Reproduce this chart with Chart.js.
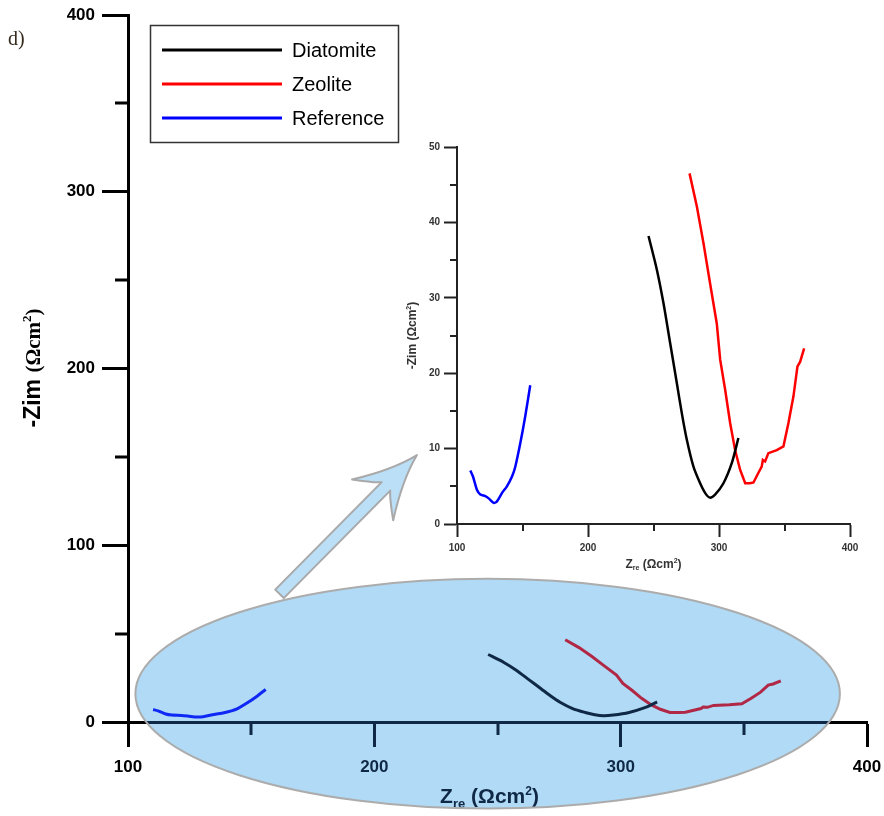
<!DOCTYPE html>
<html>
<head>
<meta charset="utf-8">
<script src="https://cdn.jsdelivr.net/npm/chart.js@4.4.1/dist/chart.umd.min.js"></script>
<style>
html, body { margin: 0; padding: 0; background: #fff; }
#wrap { position: relative; width: 884px; height: 816px; }
#main { position: absolute; left: 0; top: 0; }
#insetBox { position: absolute; left: 400px; top: 130px; width: 480px; height: 450px; }
</style>
</head>
<body>
<div id="wrap">
  <canvas id="main" width="884" height="816"></canvas>
  <div id="insetBox"><canvas id="inset" width="480" height="450"></canvas></div>
</div>
<script>
// series (same curves are in the big plot)
const seriesNames = ['Diatomite', 'Zeolite', 'Reference'];
const seriesColors = ['#000000', '#ff0000', '#0000ff'];

const diatomiteX = [246.2, 252.6, 257.6, 262.7, 267.8, 271.6, 275.4, 280.5, 285.6, 289.5, 293.0, 297.0, 303.4, 309.8, 314.8];
const diatomiteY = [38.2, 33.7, 29.3, 24.0, 18.7, 14.7, 11.2, 7.6, 5.4, 4.1, 3.5, 3.9, 5.4, 8.1, 11.4];

const zeoliteX = [277.5, 283.1, 288.2, 293.2, 298.3, 300.9, 304.7, 308.5, 312.3, 316.1, 320.0, 323.7, 326.3, 330.1, 332.6, 333.5, 335.2, 337.7, 344.1, 349.2, 353.0, 356.8, 359.9, 361.9, 365.0];
const zeoliteY = [46.5, 42.1, 37.2, 31.9, 26.6, 21.8, 17.8, 13.4, 9.8, 7.2, 5.4, 5.4, 5.5, 6.8, 7.6, 8.5, 8.3, 9.4, 9.8, 10.3, 13.4, 16.9, 20.9, 21.5, 23.3];

const referenceX = [110.2, 112.2, 115.3, 117.8, 121.6, 124.2, 128.0, 130.5, 134.3, 138.1, 142.0, 144.5, 148.3, 152.1, 155.9];
const referenceY = [7.1, 6.3, 4.5, 3.9, 3.7, 3.4, 2.8, 3.0, 4.1, 5.0, 6.3, 7.6, 10.7, 14.3, 18.4];

const xTicks = [100, 200, 300, 400];
const xMinor = [150, 250, 350];
const mainYTicks = [0, 100, 200, 300, 400];
const mainYMinor = [50, 150, 250, 350];
const insetYTicks = [0, 10, 20, 30, 40, 50];
const insetYMinor = [5, 15, 25, 35, 45];

// oval + arrow annotation in main-plot data units
const ovalCenter = [246, 16];
const ovalRadius = [143, 65];
const arrowTail = [161.5, 72.5];
const arrowTip = [217.3, 151];

function pts(xs, ys) { return xs.map((x, i) => ({ x: x, y: ys[i] })); }

function makeDatasets(width) {
  const sets = [[diatomiteX, diatomiteY, 0.25], [zeoliteX, zeoliteY, 0], [referenceX, referenceY, 0.25]];
  return sets.map((s, i) => ({
    label: seriesNames[i],
    data: pts(s[0], s[1]),
    borderColor: seriesColors[i],
    borderWidth: width,
    pointRadius: 0,
    showLine: true,
    tension: s[2],
    fill: false
  }));
}

function drawRich(ctx, parts, x, y, align) {
  let total = 0;
  parts.forEach(p => { ctx.font = p.font; p.w = ctx.measureText(p.t).width; total += p.w; });
  let cx = align === 'center' ? x - total / 2 : x;
  ctx.textBaseline = 'alphabetic';
  ctx.textAlign = 'left';
  parts.forEach(p => {
    ctx.font = p.font;
    ctx.fillText(p.t, cx, y + (p.dy || 0));
    cx += p.w;
  });
}

function minorTicksPlugin(xs, ys, len, width, color) {
  return {
    id: 'minorTicks',
    afterDraw(chart) {
      const ctx = chart.ctx, a = chart.chartArea;
      const sx = chart.scales.x, sy = chart.scales.y;
      ctx.save();
      ctx.strokeStyle = color;
      ctx.lineWidth = width;
      ctx.beginPath();
      xs.forEach(v => { const p = Math.round(sx.getPixelForValue(v)); ctx.moveTo(p, a.bottom); ctx.lineTo(p, a.bottom + len); });
      ys.forEach(v => { const p = Math.round(sy.getPixelForValue(v)); ctx.moveTo(a.left, p); ctx.lineTo(a.left - len, p); });
      ctx.stroke();
      ctx.restore();
    }
  };
}

const whiteBg = {
  id: 'whiteBg',
  beforeDraw(chart) {
    const ctx = chart.ctx;
    ctx.save();
    ctx.fillStyle = '#fff';
    ctx.fillRect(0, 0, chart.width, chart.height);
    ctx.restore();
  }
};

const mainDecor = {
  id: 'mainDecor',
  afterDraw(chart) {
    const ctx = chart.ctx, a = chart.chartArea;
    const sx = chart.scales.x, sy = chart.scales.y;
    ctx.save();
    ctx.fillStyle = '#000';
    // axis titles
    drawRich(ctx, [
      { t: 'Z', font: 'bold 21px "Liberation Sans", Arial' },
      { t: 're', font: 'bold 13px "Liberation Sans", Arial', dy: 5 },
      { t: ' (\u03A9cm', font: 'bold 21px "Liberation Sans", Arial' },
      { t: '2', font: 'bold 12px "Liberation Sans", Arial', dy: -8 },
      { t: ')', font: 'bold 21px "Liberation Sans", Arial' }
    ], (a.left + a.right) / 2 - 8, 803, 'center');
    ctx.save();
    ctx.translate(40, 368);
    ctx.rotate(-Math.PI / 2);
    drawRich(ctx, [
      { t: '-Zim ', font: 'bold 23px "Liberation Sans", Arial' },
      { t: '(\u03A9cm', font: 'bold 21px "Liberation Serif", serif' },
      { t: '2', font: 'bold 13px "Liberation Serif", serif', dy: -9 },
      { t: ')', font: 'bold 21px "Liberation Serif", serif' }
    ], 0, 0, 'center');
    ctx.restore();

    // panel letter
    ctx.fillStyle = '#33291c';
    ctx.font = '20px "Liberation Serif", serif';
    ctx.textAlign = 'left';
    ctx.fillText('d)', 8, 45);

    // legend box
    ctx.strokeStyle = '#333';
    ctx.lineWidth = 1.5;
    ctx.strokeRect(150.5, 25.5, 248, 117);
    const rows = [50, 84, 118];
    chart.data.datasets.forEach((ds, i) => {
      ctx.strokeStyle = ds.borderColor;
      ctx.lineWidth = 3;
      ctx.beginPath();
      ctx.moveTo(162, rows[i]);
      ctx.lineTo(282, rows[i]);
      ctx.stroke();
      ctx.fillStyle = '#000';
      ctx.font = '20px "Liberation Sans", Arial';
      ctx.textBaseline = 'middle';
      ctx.fillText(ds.label, 292, rows[i] + 1);
    });

    // arrow pointing to the inset
    const tx = sx.getPixelForValue(arrowTail[0]), ty = sy.getPixelForValue(arrowTail[1]);
    const hx = sx.getPixelForValue(arrowTip[0]), hy = sy.getPixelForValue(arrowTip[1]);
    const L = Math.hypot(hx - tx, hy - ty);
    const ux = (hx - tx) / L, uy = (hy - ty) / L;
    const nx = -uy, ny = ux;
    const P = (along, side) => [hx - ux * along + nx * side, hy - uy * along + ny * side];
    ctx.beginPath();
    let p = P(0, 0); ctx.moveTo(p[0], p[1]);
    let c = P(28, 7), q = P(63, 29); ctx.quadraticCurveTo(c[0], c[1], q[0], q[1]);
    c = P(50, 11); q = P(44, 6); ctx.quadraticCurveTo(c[0], c[1], q[0], q[1]);
    p = P(L, 6); ctx.lineTo(p[0], p[1]);
    p = P(L, -6); ctx.lineTo(p[0], p[1]);
    p = P(44, -6); ctx.lineTo(p[0], p[1]);
    c = P(50, -11); q = P(63, -29); ctx.quadraticCurveTo(c[0], c[1], q[0], q[1]);
    c = P(28, -7); q = P(0, 0); ctx.quadraticCurveTo(c[0], c[1], q[0], q[1]);
    ctx.closePath();
    ctx.fillStyle = 'rgb(186,223,247)';
    ctx.fill();
    ctx.strokeStyle = '#a9a9a9';
    ctx.lineWidth = 2;
    ctx.lineJoin = 'round';
    ctx.stroke();

    // translucent oval over the low part of the plot
    const ex = sx.getPixelForValue(ovalCenter[0]), ey = sy.getPixelForValue(ovalCenter[1]);
    const rx = sx.getPixelForValue(ovalCenter[0] + ovalRadius[0]) - ex;
    const ry = ey - sy.getPixelForValue(ovalCenter[1] + ovalRadius[1]);
    ctx.beginPath();
    ctx.ellipse(ex, ey, rx, ry, 0, 0, Math.PI * 2);
    ctx.globalCompositeOperation = 'multiply';
    ctx.fillStyle = 'rgb(171,211,241)';
    ctx.fill();
    ctx.globalCompositeOperation = 'screen';
    ctx.fillStyle = 'rgb(15,40,70)';
    ctx.fill();
    ctx.globalCompositeOperation = 'source-over';
    ctx.strokeStyle = '#acacac';
    ctx.lineWidth = 2;
    ctx.stroke();
    ctx.restore();
  }
};

const insetDecor = {
  id: 'insetDecor',
  afterDraw(chart) {
    const ctx = chart.ctx, a = chart.chartArea;
    ctx.save();
    ctx.fillStyle = '#333';
    drawRich(ctx, [
      { t: 'Z', font: 'bold 12px "Liberation Sans", Arial' },
      { t: 're', font: 'bold 7px "Liberation Sans", Arial', dy: 2 },
      { t: ' (\u03A9cm', font: 'bold 12px "Liberation Sans", Arial' },
      { t: '2', font: 'bold 7px "Liberation Sans", Arial', dy: -5 },
      { t: ')', font: 'bold 12px "Liberation Sans", Arial' }
    ], (a.left + a.right) / 2, 438, 'center');
    ctx.translate(16, (a.top + a.bottom) / 2);
    ctx.rotate(-Math.PI / 2);
    drawRich(ctx, [
      { t: '-Zim (\u03A9cm', font: 'bold 12px "Liberation Sans", Arial' },
      { t: '2', font: 'bold 7px "Liberation Sans", Arial', dy: -5 },
      { t: ')', font: 'bold 12px "Liberation Sans", Arial' }
    ], 0, 0, 'center');
    ctx.restore();
  }
};

function axis(min, max, step, o) {
  return {
    type: 'linear',
    min: min, max: max,
    border: { display: true, color: o.color, width: o.width },
    grid: { display: true, drawOnChartArea: false, drawTicks: true, tickLength: o.tick, tickWidth: o.width, tickColor: o.color },
    ticks: {
      stepSize: step,
      padding: o.pad,
      color: o.label,
      font: { family: '"Liberation Sans", Arial', size: o.size, weight: 'bold' },
      maxRotation: 0
    },
    title: { display: false }
  };
}

Chart.defaults.animation = false;

const mainX = axis(100, 400, 100, { color: '#000', width: 3, tick: 25, pad: 10, label: '#000', size: 17 });
mainX.afterFit = s => { s.height = 94; s.paddingLeft = 0; s.paddingRight = 0; };
const mainY = axis(0, 400, 100, { color: '#000', width: 3, tick: 26, pad: 7, label: '#000', size: 17 });
mainY.afterFit = s => { s.width = 128; s.paddingTop = 0; s.paddingBottom = 0; };

new Chart(document.getElementById('main'), {
  type: 'scatter',
  data: { datasets: makeDatasets(3) },
  options: {
    responsive: false,
    devicePixelRatio: 1,
    layout: { padding: { top: 15, right: 17, left: 0, bottom: 0 } },
    plugins: { legend: { display: false }, tooltip: { enabled: false } },
    scales: { x: mainX, y: mainY }
  },
  plugins: [whiteBg, minorTicksPlugin(xMinor, mainYMinor, 13, 3, '#000'), mainDecor]
});

const insX = axis(100, 400, 100, { color: '#222', width: 2, tick: 13, pad: 5, label: '#333', size: 10 });
insX.afterFit = s => { s.height = 56; s.paddingLeft = 0; s.paddingRight = 0; };
const insY = axis(0, 50, 10, { color: '#222', width: 2, tick: 13, pad: 4, label: '#333', size: 10 });
insY.afterFit = s => { s.width = 57; s.paddingTop = 0; s.paddingBottom = 0; };

new Chart(document.getElementById('inset'), {
  type: 'scatter',
  data: { datasets: makeDatasets(2.5) },
  options: {
    responsive: false,
    devicePixelRatio: 1,
    layout: { padding: { top: 17, right: 30, left: 0, bottom: 0 } },
    plugins: { legend: { display: false }, tooltip: { enabled: false } },
    scales: { x: insX, y: insY }
  },
  plugins: [minorTicksPlugin(xMinor, insetYMinor, 7, 2, '#222'), insetDecor]
});
</script>
</body>
</html>
